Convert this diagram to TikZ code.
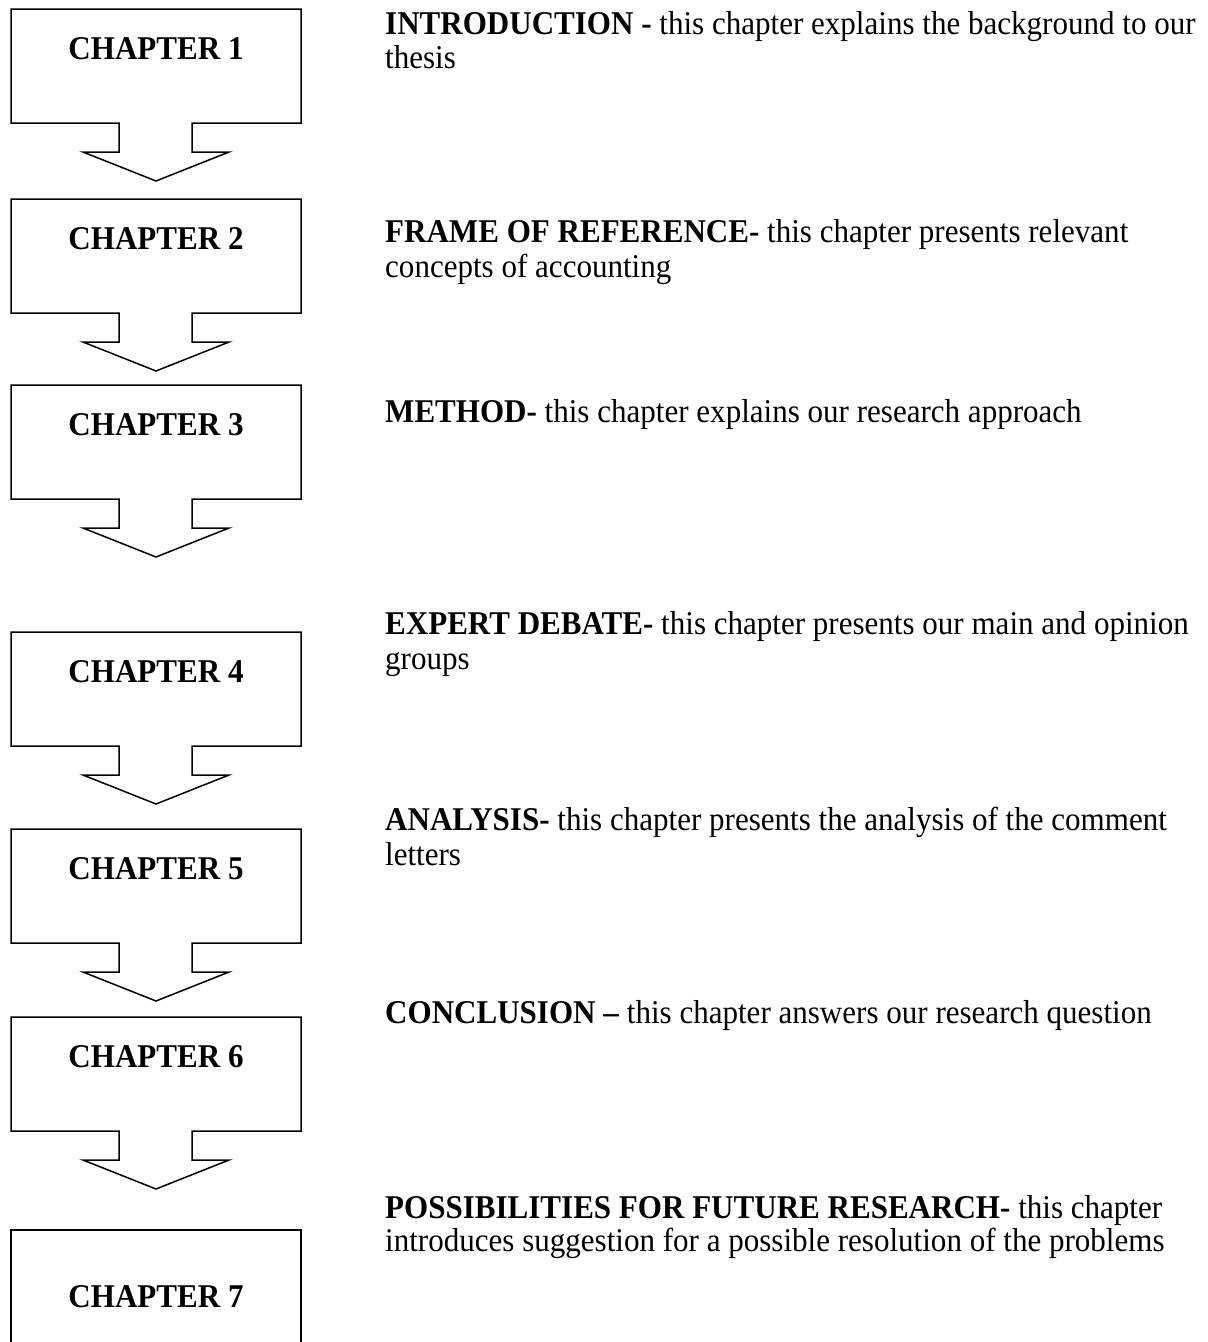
\documentclass[tikz,border=0pt]{standalone}
\usepackage{fontspec}
\setmainfont{Liberation Serif}[FakeStretch=0.935]
\begin{document}
\begin{tikzpicture}[x=1pt,y=-1pt,
  chaplabel/.style={font=\fontsize{33.2}{35.5}\selectfont\bfseries, inner sep=0pt, anchor=base},
  desc/.style={font=\fontsize{33.2}{35.5}\selectfont, inner sep=0pt, anchor=base west},
  outline/.style={draw=black, line width=1.5pt, line join=miter}]
\useasboundingbox[fill=white] (0,0) rectangle (1208,1342);
% arrow boxes: top y values
\foreach \t [count=\i] in {9,199,385,632,829,1017}{
  \draw[outline] (11,\t) -- (301,\t) -- (301,\t+114) -- (192,\t+114) -- (192,\t+143)
    -- (229,\t+143) -- (156,\t+172) -- (83,\t+143) -- (119,\t+143) -- (119,\t+114)
    -- (11,\t+114) -- cycle;
  \node[chaplabel] (c\i) at (156,\t+50) {CHAPTER \i};
}
\draw[outline] (11,1345) -- (11,1230) -- (301,1230) -- (301,1345);
\node[chaplabel] (c7) at (156,1307) {CHAPTER 7};
% descriptions
\node[desc] (d1a) at (385,34) {\textbf{INTRODUCTION -} this chapter explains the background to our};
\node[desc] (d1b) at (385,68) {thesis};
\node[desc] (d2a) at (385,242) {\textbf{FRAME OF REFERENCE-} this chapter presents relevant};
\node[desc] (d2b) at (385,277.5) {concepts of accounting};
\node[desc] (d3a) at (385,422) {\textbf{METHOD-} this chapter explains our research approach};
\node[desc] (d4a) at (385,634) {\textbf{EXPERT DEBATE-} this chapter presents our main and opinion};
\node[desc] (d4b) at (385,669.5) {groups};
\node[desc] (d5a) at (385,830) {\textbf{ANALYSIS-} this chapter presents the analysis of the comment};
\node[desc] (d5b) at (385,865) {letters};
\node[desc] (d6a) at (385,1023) {\textbf{CONCLUSION –} this chapter answers our research question};
\node[desc] (d7a) at (385,1218) {\textbf{POSSIBILITIES FOR FUTURE RESEARCH-} this chapter};
\node[desc] (d7b) at (385,1251) {introduces suggestion for a possible resolution of the problems};
\end{tikzpicture}
\end{document}
